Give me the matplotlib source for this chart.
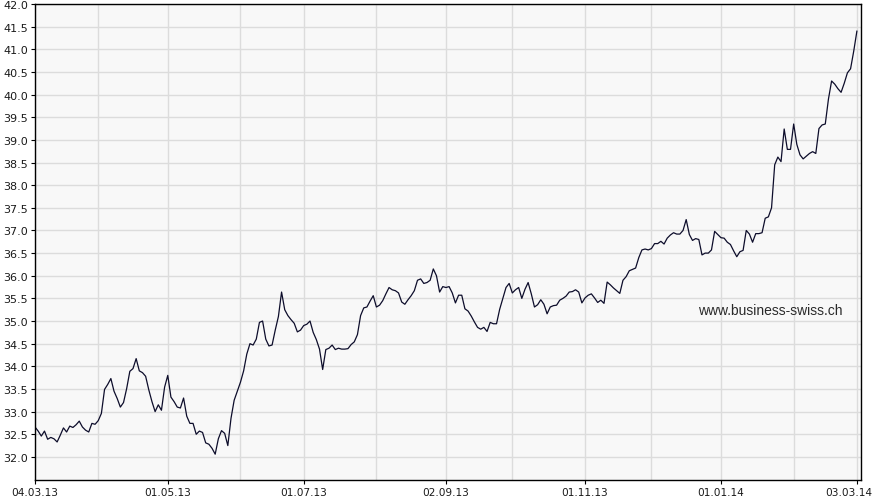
import numpy as np
import pandas as pd
import matplotlib
matplotlib.use('Agg')
import matplotlib.pyplot as plt
from matplotlib.transforms import ScaledTranslation

# daily closing prices, one per weekday from 04.03.13 to 03.03.14
start_date = '2013-03-04'

prices_mar_apr = [32.66, 32.57, 32.46, 32.57, 32.39, 32.43, 32.40, 32.33, 32.48, 32.64,
                  32.55, 32.68, 32.65, 32.71, 32.79, 32.66, 32.59, 32.55, 32.74, 32.72,
                  32.80, 32.96, 33.49, 33.60, 33.73, 33.45, 33.29, 33.10, 33.20, 33.51,
                  33.89, 33.95, 34.17, 33.90, 33.86, 33.78, 33.48, 33.22, 33.00, 33.15,
                  33.03, 33.54, 33.80, 33.32, 33.22]
prices_may_jun = [33.10, 33.08, 33.30, 32.90, 32.74, 32.74, 32.50, 32.57, 32.54, 32.31,
                  32.28, 32.19, 32.06, 32.40, 32.58, 32.52, 32.25, 32.85, 33.25, 33.45,
                  33.65, 33.90, 34.27, 34.50, 34.47, 34.60, 34.97, 35.00, 34.60, 34.45,
                  34.47, 34.80, 35.10, 35.64, 35.25, 35.12, 35.03, 34.95, 34.76, 34.80,
                  34.90, 34.93, 35.00]
prices_jul_aug = [34.75, 34.59, 34.38, 33.93, 34.37, 34.40, 34.47, 34.37, 34.40, 34.38,
                  34.38, 34.39, 34.48, 34.54, 34.70, 35.12, 35.29, 35.31, 35.44, 35.56,
                  35.31, 35.35, 35.45, 35.60, 35.74, 35.69, 35.67, 35.62, 35.42, 35.37,
                  35.47, 35.56, 35.67, 35.90, 35.93, 35.83, 35.85, 35.90, 36.15, 36.00,
                  35.64, 35.76, 35.74, 35.76]
prices_sep_oct = [35.62, 35.40, 35.57, 35.57, 35.27, 35.22, 35.11, 34.98, 34.86, 34.82,
                  34.86, 34.77, 34.97, 34.94, 34.94, 35.26, 35.50, 35.74, 35.83, 35.62,
                  35.69, 35.74, 35.50, 35.70, 35.85, 35.60, 35.31, 35.36, 35.47, 35.37,
                  35.16, 35.31, 35.34, 35.35, 35.46, 35.50, 35.55, 35.64, 35.65, 35.69,
                  35.64, 35.40, 35.51, 35.57]
prices_nov_dec = [35.60, 35.51, 35.41, 35.46, 35.39, 35.86, 35.80, 35.73, 35.67, 35.61,
                  35.90, 35.98, 36.11, 36.14, 36.17, 36.40, 36.57, 36.59, 36.57, 36.60,
                  36.71, 36.71, 36.76, 36.70, 36.83, 36.90, 36.95, 36.92, 36.92, 37.00,
                  37.24, 36.91, 36.78, 36.82, 36.80, 36.46, 36.50, 36.50, 36.57, 36.98,
                  36.91, 36.84, 36.83]
prices_jan_mar = [36.74, 36.69, 36.55, 36.42, 36.53, 36.56, 37.00, 36.92, 36.74, 36.93,
                  36.93, 36.95, 37.27, 37.30, 37.50, 38.45, 38.62, 38.52, 39.24, 38.79,
                  38.79, 39.35, 38.90, 38.67, 38.58, 38.64, 38.70, 38.74, 38.70, 39.25,
                  39.33, 39.35, 39.90, 40.30, 40.23, 40.13, 40.05, 40.25, 40.48, 40.57,
                  40.96, 41.40]

y_ticks = np.arange(32.0, 42.01, 0.5)
watermark = 'www.business-swiss.ch'

prices = (prices_mar_apr + prices_may_jun + prices_jul_aug +
          prices_sep_oct + prices_nov_dec + prices_jan_mar)
dates = pd.bdate_range(start_date, periods=len(prices))
x = np.arange(len(prices))

# first trading day of each month -> grid line, every second month gets a label
month_first = [i for i in range(len(dates)) if i == 0 or dates[i].month != dates[i - 1].month]
label_idx = [i for i in month_first if (dates[i].month - 3) % 2 == 0]
label_txt = [dates[i].strftime('%d.%m.%y') for i in label_idx]

fig = plt.figure(figsize=(8.77, 5.02), dpi=100)
fig.patch.set_facecolor('white')
ax = fig.add_axes([35 / 877, 21 / 502, 826 / 877, 476 / 502])
ax.set_facecolor('#f8f8f8')

ax.plot(x, prices, color='#0d0d2b', lw=0.9)

ax.set_xlim(0, 261.3)
ax.set_ylim(31.49, 42.0)

ax.set_xticks(label_idx)
ax.set_xticklabels(label_txt)
ax.set_xticks(month_first[1:], minor=True)
ax.set_yticks(y_ticks)
ax.set_yticklabels(['%.1f' % v for v in y_ticks])

ax.grid(True, which='major', color='#dcdcdc', lw=1)
ax.grid(True, which='minor', axis='x', color='#dcdcdc', lw=1)
ax.set_axisbelow(True)

ax.tick_params(axis='both', which='major', length=3, width=0.8, pad=2,
               labelsize=8, labelcolor='#1a1a1a', direction='out')
ax.tick_params(axis='x', which='major', labelsize=7.6)
ax.tick_params(axis='x', which='minor', length=0)
for side in ['top', 'right', 'left', 'bottom']:
    ax.spines[side].set_color('black')
    ax.spines[side].set_linewidth(1)

# last date label is pulled in so it stays inside the picture
last_lbl = ax.get_xticklabels()[-1]
last_lbl.set_transform(last_lbl.get_transform() + ScaledTranslation(-0.085, 0, fig.dpi_scale_trans))

fig.text(843 / 877, 1 - 311 / 502, watermark, ha='right', va='center',
         fontsize=10, family='Liberation Sans', color='#2a2a2a')

fig.savefig('out.png', dpi=100)
